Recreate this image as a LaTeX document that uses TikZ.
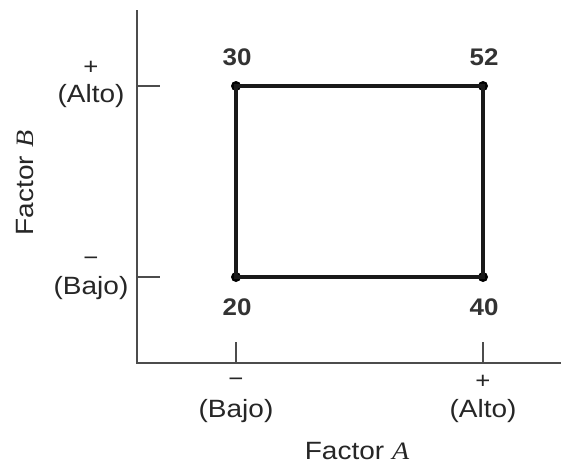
\documentclass[tikz,border=0pt]{standalone}
\usepackage{fontspec}
\setmainfont[FakeStretch=1.12]{Liberation Sans}
\newfontfamily\numfont[FakeStretch=1.08]{Liberation Sans}
\newfontfamily\factorit[FakeStretch=1.12]{Liberation Serif}
\usepackage{tikz}

\tikzset{
  corner/.style={circle,fill=black,inner sep=0pt,minimum size=10pt},
  val/.style={font=\numfont\fontsize{24}{28}\selectfont\bfseries,text=black!80},
  lvl/.style={font=\fontsize{25}{29}\selectfont,text=black!85},
  sgn/.style={font=\fontsize{23}{26}\selectfont,text=black!85},
  axis/.style={line width=2.5pt,black!70},
}

\begin{document}
\begin{tikzpicture}[x=1pt,y=-1pt]
\useasboundingbox (0,0) rectangle (561,466);

\coordinate (o) at (137,363);
\coordinate (ytop) at (137,10);
\coordinate (xend) at (561,363);
\draw[axis] (ytop) -- (o) -- (xend);

% ticks
\coordinate (yt1) at (137,86);  \coordinate (yt1e) at (160,86);
\coordinate (yt2) at (137,277); \coordinate (yt2e) at (160,277);
\coordinate (xt1) at (236,363); \coordinate (xt1e) at (236,342);
\coordinate (xt2) at (483,363); \coordinate (xt2e) at (483,342);
\draw[axis] (yt1) -- (yt1e);
\draw[axis] (yt2) -- (yt2e);
\draw[axis] (xt1) -- (xt1e);
\draw[axis] (xt2) -- (xt2e);

% design square
\node[corner] (ll) at (236,277) {};
\node[corner] (lr) at (483,277) {};
\node[corner] (ul) at (236,86) {};
\node[corner] (ur) at (483,86) {};
\draw[line width=3.5pt,black!90] (ll.center) -- (lr.center) -- (ur.center) -- (ul.center) -- cycle;

\node[val] (v20) at (237,307) {20};
\node[val] (v40) at (484,307) {40};
\node[val] (v30) at (237,57) {30};
\node[val] (v52) at (484,57) {52};

% factor B levels
\node[sgn] (bplus) at (91,68) {+};
\node[lvl] (balto) at (91,96) {(Alto)};
\node[sgn] (bminus) at (91,261) {\textminus};
\node[lvl] (bbajo) at (91,288) {(Bajo)};
\node[lvl,rotate=90] (fb) at (25,183) {Factor {\factorit\itshape B}};

% factor A levels
\node[sgn] (aminus) at (236,382) {\textminus};
\node[lvl] (abajo) at (236,411) {(Bajo)};
\node[sgn] (aplus) at (483,382) {+};
\node[lvl] (aalto) at (483,411) {(Alto)};
\node[lvl] (fa) at (357,451) {Factor {\factorit\itshape A}};
\end{tikzpicture}
\end{document}
